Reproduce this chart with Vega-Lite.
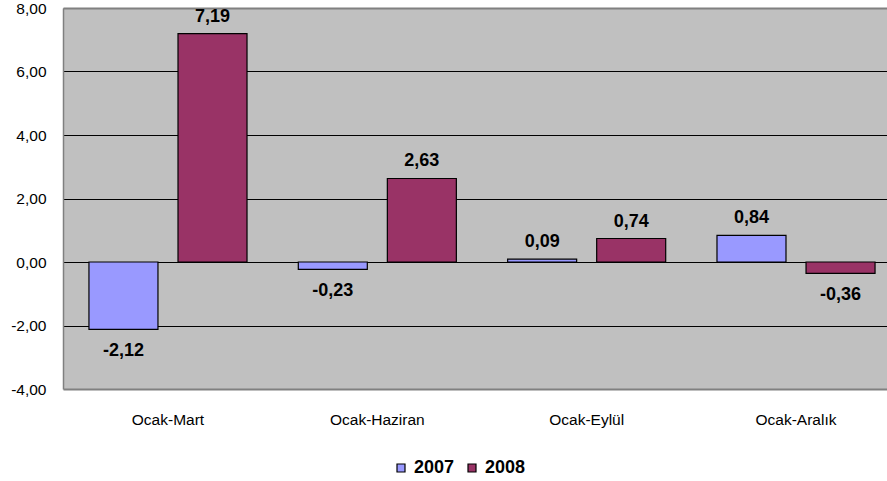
{
  "$schema": "https://vega.github.io/schema/vega-lite/v6.json",
  "width": 824,
  "height": 381,
  "autosize": {"type": "none"},
  "padding": {"left": 63, "top": 8, "right": 0, "bottom": 92},
  "background": "white",
  "config": {
    "locale": {"number": {"decimal": ",", "thousands": ".", "grouping": [3], "currency": ["", " TL"], "minus": "-"}},
    "font": "Liberation Sans",
    "view": {"fill": "#C0C0C0", "stroke": null}
  },
  "data": {
    "values": [
      {"period": "Ocak-Mart", "year": "2007", "value": -2.12},
      {"period": "Ocak-Mart", "year": "2008", "value": 7.19},
      {"period": "Ocak-Haziran", "year": "2007", "value": -0.23},
      {"period": "Ocak-Haziran", "year": "2008", "value": 2.63},
      {"period": "Ocak-Eylül", "year": "2007", "value": 0.09},
      {"period": "Ocak-Eylül", "year": "2008", "value": 0.74},
      {"period": "Ocak-Aralık", "year": "2007", "value": 0.84},
      {"period": "Ocak-Aralık", "year": "2008", "value": -0.36}
    ]
  },
  "encoding": {
    "x": {
      "field": "period", "type": "nominal", "sort": null,
      "scale": {"range": [0, 838], "paddingInner": 0.245, "paddingOuter": 0.124},
      "axis": {"title": null, "labelAngle": 0, "domain": false, "ticks": false, "labelPadding": 23, "labelFontSize": 15.5, "labelColor": "black", "labelFont": "Liberation Sans"}
    },
    "xOffset": {"field": "year", "type": "nominal", "scale": {"paddingInner": 0.225, "paddingOuter": 0}},
    "y": {
      "field": "value", "type": "quantitative",
      "scale": {"domain": [-4, 8], "nice": false, "zero": false},
      "axis": {
        "title": null, "values": [-4, -2, 0, 2, 4, 6, 8], "format": ".2f",
        "domain": true, "domainColor": "#808080", "domainWidth": 1.5, "ticks": false, "labelPadding": 17, "labelFontSize": 15.5, "labelColor": "black",
        "grid": true, "gridColor": {"condition": {"test": "datum.value == 8 || datum.value == -4", "value": "#808080"}, "value": "black"}, "gridOpacity": 1, "gridWidth": {"condition": {"test": "datum.value == 8 || datum.value == -4", "value": 2}, "value": 1.2}
      }
    }
  },
  "layer": [
    {
      "mark": {"type": "bar", "stroke": "black", "strokeWidth": 1.2},
      "encoding": {
        "color": {
          "field": "year", "type": "nominal",
          "scale": {"domain": ["2007", "2008"], "range": ["#9999FF", "#993366"]},
          "legend": {
            "title": null, "orient": "none", "direction": "horizontal", "legendX": 329, "legendY": 451,
            "symbolType": "square", "symbolSize": 64, "symbolStrokeColor": "black", "symbolStrokeWidth": 1.2,
            "labelFontSize": 18, "labelFontWeight": "bold", "labelColor": "black", "columnPadding": 8, "labelOffset": 4
          }
        }
      }
    },
    {
      "transform": [{"filter": "datum.value >= 0"}],
      "mark": {"type": "text", "fontWeight": "bold", "fontSize": 18, "baseline": "middle", "dy": -17, "color": "black"},
      "encoding": {"text": {"field": "value", "type": "quantitative", "format": ".2f"}}
    },
    {
      "transform": [{"filter": "datum.value < 0"}],
      "mark": {"type": "text", "fontWeight": "bold", "fontSize": 18, "baseline": "middle", "dy": 22, "color": "black"},
      "encoding": {"text": {"field": "value", "type": "quantitative", "format": ".2f"}}
    }
  ]
}
